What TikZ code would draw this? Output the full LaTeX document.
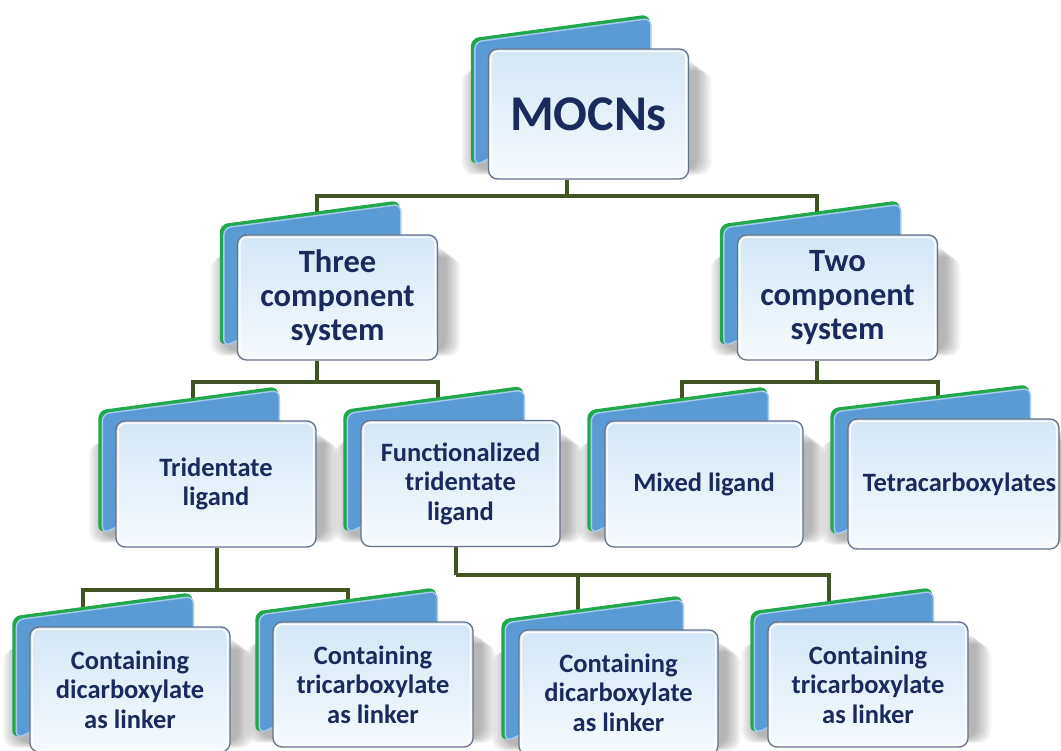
\documentclass[tikz,border=0pt]{standalone}
\usepackage{fontspec}
\setmainfont{Carlito}
\usetikzlibrary{calc}
\definecolor{navy}{RGB}{27,42,92}
\definecolor{conncol}{RGB}{66,84,36}
\definecolor{cardblue}{RGB}{91,155,213}
\definecolor{cardgreen}{RGB}{34,168,76}
\definecolor{cardlight}{RGB}{165,203,238}
\definecolor{frontborder}{RGB}{100,114,138}
\definecolor{fronttop}{RGB}{212,230,246}
\definecolor{frontbot}{RGB}{246,250,254}
\pgfdeclarelayer{bglayer}\pgfdeclarelayer{connlayer}\pgfdeclarelayer{backlayer}\pgfdeclarelayer{toplayer}
\pgfsetlayers{bglayer,connlayer,backlayer,main,toplayer}
\tikzset{
  front/.style={draw=frontborder, line width=1.3pt, rounded corners=9pt,
    top color=fronttop, bottom color=frontbot, text=navy, align=center,
    inner sep=0pt, minimum width=200pt, minimum height=126pt},
  lvlA/.style={font=\bfseries\fontsize{50}{54}\selectfont},
  lvlB/.style={font=\bfseries\fontsize{32.5}{34}\selectfont},
  lvlC/.style={font=\bfseries\fontsize{26.5}{29.5}\selectfont},
  conn/.style={draw=conncol, line width=3.2pt},
  softshadow/.style={fill=black, opacity=0.03}
}
% back card behind a front node: #1 node name, #2 top-right x offset from west
\newcommand\backcard[2]{%
  \begin{pgfonlayer}{backlayer}
    \foreach \k in {0,...,9}{
      \fill[softshadow, rounded corners=12pt]
        ($(#1.north west)+(-12-1.6*\k,12+1.2*\k)$) rectangle ($(#1.south east)+(8+1.6*\k,-10+0.6*\k)$);
    }
    \fill[cardgreen, rounded corners=8pt]
      ($(#1.south west)+(-17,-14)$) -- ($(#1.north west)+(-17,-10)$)
      -- ($(#1.north west)+(#2,-34)$) -- ($(#1.north west)+(#2,30)$) -- cycle;
    \filldraw[fill=cardblue, draw=cardlight, line width=1.4pt, rounded corners=7pt]
      ($(#1.south west)+(-13,-14)$) -- ($(#1.north west)+(-13,-6.5)$)
      -- ($(#1.north west)+(#2+1,-30)$) -- ($(#1.north west)+(#2+1,30)$) -- cycle;
  \end{pgfonlayer}
  \begin{pgfonlayer}{toplayer}
    \draw[white, line width=1.4pt, rounded corners=7pt, opacity=0.9]
      ($(#1.north west)+(3,3)$) rectangle ($(#1.south east)+(-3,-3)$);
  \end{pgfonlayer}}
\begin{document}
\begin{tikzpicture}[x=1pt,y=-1pt]
\useasboundingbox (0,0) rectangle (1061,751);
\begin{pgfonlayer}{bglayer}
\fill[white] (0,0) rectangle (1061,751);
\end{pgfonlayer}

% front cards (nodes)
\node[front, lvlA, minimum height=130pt] (mocns) at (588.5,114) {MOCNs};
\node[front, lvlB, minimum height=125pt] (three) at (337.5,297.5) {Three\\component\\system};
\node[front, lvlB, minimum height=125pt] (two) at (837.5,297.5) {Two\\component\\system};
\node[front, lvlC] (trid) at (216,484) {Tridentate\\ligand};
\node[front, lvlC, minimum width=199pt] (func) at (460.5,483.5) {Functionalized\\tridentate\\ligand};
\node[front, lvlC, minimum width=198pt] (mixed) at (704,484) {Mixed ligand};
\node[front, lvlC, minimum width=211pt, minimum height=130pt] (tetra) at (953.5,484) {\hspace*{12pt}Tetracarboxylates};
\node[front, lvlC, minimum height=125pt] (cda) at (130,689.5) {Containing\\dicarboxylate\\as linker};
\node[front, lvlC, minimum height=125pt] (cta) at (373,684.5) {Containing\\tricarboxylate\\as linker};
\node[front, lvlC, minimum width=199pt, minimum height=125pt] (cdb) at (618.5,692.5) {Containing\\dicarboxylate\\as linker};
\node[front, lvlC, minimum height=125pt] (ctb) at (868,684.5) {Containing\\tricarboxylate\\as linker};

% back cards
\backcard{mocns}{162}
\backcard{three}{163}
\backcard{two}{163}
\backcard{trid}{163}
\backcard{func}{163}
\backcard{mixed}{163}
\backcard{tetra}{182}
\backcard{cda}{163}
\backcard{cta}{164}
\backcard{cdb}{164}
\backcard{ctb}{165}

% connectors
\begin{pgfonlayer}{connlayer}
\coordinate (busA) at (567,196);
\coordinate (busB) at (317,382);
\coordinate (busC) at (817,382);
\coordinate (busD) at (217,590);
\coordinate (busE) at (456,575);
\draw[conn] (mocns.south -| busA) -- (busA);
\draw[conn] ([xshift=-20.5pt]three.north) |- (busA) -| ([xshift=-20.5pt]two.north);
\draw[conn] (three.south -| busB) -- (busB);
\draw[conn] ([xshift=-23pt]trid.north) |- (busB) -| ([xshift=-22.5pt]func.north);
\draw[conn] (two.south -| busC) -- (busC);
\draw[conn] ([xshift=-22pt]mixed.north) |- (busC) -| ([xshift=-15.5pt]tetra.north);
\draw[conn] (trid.south -| busD) -- (busD);
\draw[conn] ([xshift=-47pt]cda.north) |- (busD) -| ([xshift=-25pt]cta.north);
\draw[conn] (func.south -| busE) -- (busE);
\draw[conn] (busE) -| ([xshift=-40.5pt]cdb.north);
\draw[conn] (busE) -| ([xshift=-39pt]ctb.north);
\end{pgfonlayer}
\end{tikzpicture}
\end{document}
